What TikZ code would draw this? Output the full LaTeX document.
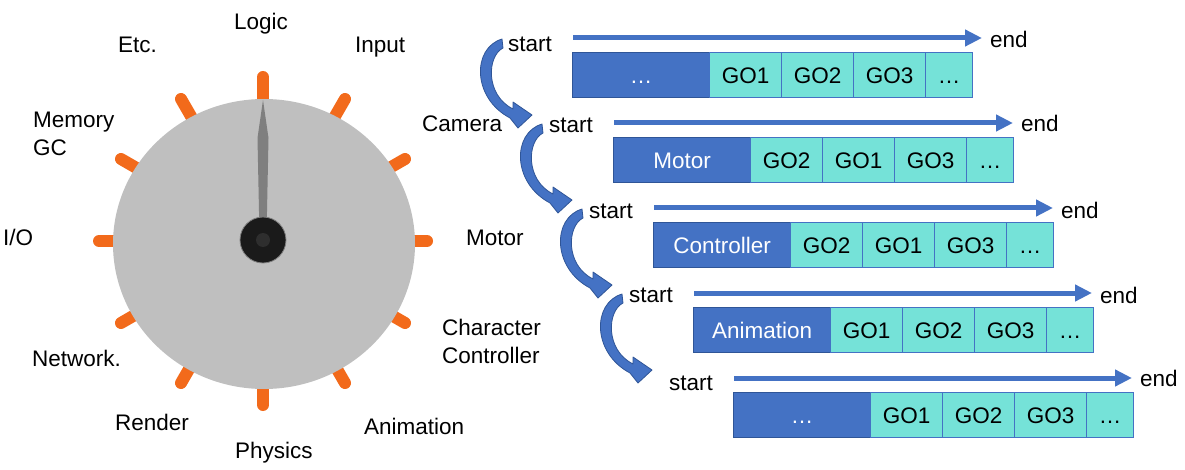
\documentclass[tikz,border=0pt]{standalone}
\usepackage{fontspec}
\setmainfont{Liberation Sans}
\usetikzlibrary{arrows.meta}
\definecolor{dblue}{HTML}{4472C4}
\definecolor{eblue}{HTML}{2F5597}
\definecolor{cyanc}{HTML}{75E2D8}
\definecolor{orng}{HTML}{F26A1B}
\definecolor{dialg}{HTML}{BFBFBF}
\definecolor{needleg}{HTML}{7F7F7F}
\definecolor{hubc}{HTML}{1A1A1A}
\begin{document}
\begin{tikzpicture}[x=1pt,y=-1pt,
  font=\fontsize{22.5}{27}\selectfont,
  lbl/.style={anchor=base west, inner sep=0pt},
  dcell/.style={draw=eblue, fill=dblue, line width=1.2pt, text=white, minimum height=45pt, inner sep=0pt, anchor=north west, text height=16pt, text depth=0pt},
  gcell/.style={draw=dblue, fill=cyanc, line width=1.2pt, text=black, minimum height=45pt, minimum width=72pt, inner sep=0pt, anchor=north west, text height=16pt, text depth=0pt},
  flow/.style={draw=dblue, line width=5pt, -{Triangle[length=17pt,width=16pt]}},
  tick/.style={draw=orng, line width=12pt, line cap=round},
  curv/.style={fill=dblue, draw=eblue, line width=0.8pt, line join=round}]
\useasboundingbox (0,0) rectangle (1185,470);
% ticks
\foreach \a in {0,30,...,330}
  \draw[tick] ({263+135*cos(\a)},{241-135*sin(\a)}) -- ({263+164*cos(\a)},{241-164*sin(\a)});
% dial
\fill[dialg] (264,244) ellipse [x radius=151, y radius=145];
% needle
\fill[needleg] (263,100) -- (268.5,138) -- (266.5,236) -- (259.5,236) -- (257.5,138) -- cycle;
% hub
\node[circle, fill=hubc, draw=needleg, line width=0.8pt, minimum size=46pt, inner sep=0pt] (hub) at (263,240) {};
\fill[black!82] (hub.center) circle [radius=7];
% dial labels
\node[lbl, anchor=base] (logic) at (261,30) {Logic};
\node[lbl] (etc) at (118,53) {Etc.};
\node[lbl] (input) at (355,53) {Input};
\node[lbl] (mem) at (33,128) {Memory};
\node[lbl] (gc) at (33,156) {GC};
\node[lbl] (cam) at (422,132) {Camera};
\node[lbl] (io) at (3,246) {I/O};
\node[lbl] (motor) at (466,246) {Motor};
\node[lbl] (char) at (442,335) {Character};
\node[lbl] (ctrl) at (442,363) {Controller};
\node[lbl] (net) at (32,366) {Network.};
\node[lbl] (render) at (115,430) {Render};
\node[lbl] (anim) at (364,434) {Animation};
\node[lbl] (phys) at (235,458) {Physics};
% rows
\foreach \n/\x/\y/\tip/\sb/\eb/\lab/\ga/\gb/\gc in {
  1/572/52/982/52/48/…/1/2/3,
  2/613/137/1013/133/132/Motor/2/1/3,
  3/653/222/1053/219/219/Controller/2/1/3,
  4/693/307/1092/302/303/Animation/1/2/3,
  5/733/392/1132/390/386/…/1/2/3}{
  \node[dcell, minimum width=137pt] (d\n) at (\x,\y) {\lab};
  \node[gcell] (g\n-a) at (\x+137,\y) {GO\ga};
  \node[gcell] (g\n-b) at (\x+209,\y) {GO\gb};
  \node[gcell] (g\n-c) at (\x+281,\y) {GO\gc};
  \node[gcell, minimum width=47pt] (g\n-d) at (\x+353,\y) {…};
  \coordinate (ls\n) at (\x+1,\y-14);
  \coordinate (le\n) at (\tip,\y-14);
  \draw[flow] (ls\n) -- (le\n);
  \node[lbl, anchor=base east] (st\n) at (\x-20,\sb) {start};
  \node[lbl] (en\n) at (\tip+8,\eb) {end};
}
% curved arrows
\foreach \k in {0,1,2,3}{
  \begin{scope}[shift={({503+40*\k},{40+85*\k})}]
    \path[curv] (-1,-1) .. controls (-31,8) and (-31,58) .. (7,78)
      -- (15,88) -- (29,75) -- (10,62) -- (10,69)
      .. controls (-18,55) and (-16,16) .. (0,8) -- cycle;
  \end{scope}
}
\end{tikzpicture}
\end{document}
